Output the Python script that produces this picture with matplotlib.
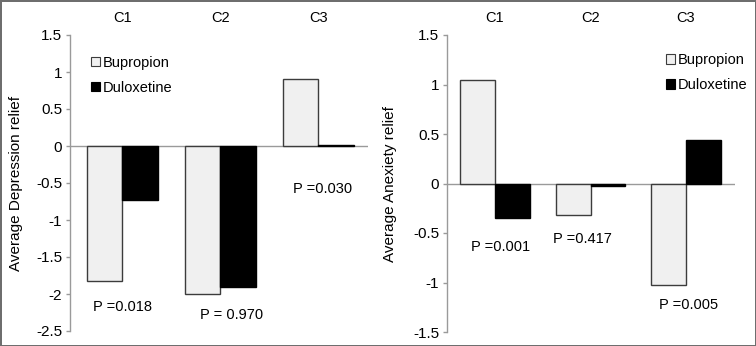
import numpy as np
import matplotlib
matplotlib.use("Agg")
import matplotlib.pyplot as plt
from matplotlib.ticker import FuncFormatter

plt.rcParams['font.family'] = ['Liberation Sans', 'DejaVu Sans']
plt.rcParams['axes.unicode_minus'] = False

categories = ['C1', 'C2', 'C3']
series = ['Bupropion', 'Duloxetine']

# depression relief
dep_bupropion = [-1.82, -2.0, 0.90]
dep_duloxetine = [-0.73, -1.91, 0.02]
dep_pvalues = ['P =0.018', 'P = 0.970', 'P =0.030']
dep_p_y = [-2.17, -2.28, -0.58]

# anxiety relief
anx_bupropion = [1.05, -0.32, -1.03]
anx_duloxetine = [-0.35, -0.03, 0.44]
anx_pvalues = ['P =0.001', 'P =0.417', 'P =0.005']
anx_p_y = [-0.64, -0.56, -1.23]

BUP_FILL = '#f0f0f0'
BUP_EDGE = '#3c3c3c'
DUL_FILL = '#000000'
AXIS_GRAY = '#9a9a9a'
FS = 10.5

fig = plt.figure(figsize=(7.56, 3.46), dpi=100)
fig.patch.set_facecolor('white')
fig.patch.set_edgecolor('#6e6e6e')
fig.patch.set_linewidth(2)

ax1 = fig.add_axes([70/756, 15/346, 298/756, 296/346])
ax2 = fig.add_axes([447/756, 14/346, 288/756, 297/346])


def draw_panel(ax, bup, dul, pvals, p_y, p_x_off, ylim, yticks, xlim, bw, ylabel, ylab_x, leg_anchor):
    x = np.arange(len(categories))
    b1 = ax.bar(x - bw/2, bup, bw, color=BUP_FILL, edgecolor=BUP_EDGE, linewidth=1.0,
                label=series[0], zorder=3)
    b2 = ax.bar(x + bw/2, dul, bw, color=DUL_FILL, edgecolor=DUL_FILL, linewidth=1.0,
                label=series[1], zorder=3)
    ax.axhline(0, color=AXIS_GRAY, linewidth=1.0, zorder=2)

    ax.set_xlim(*xlim)
    ax.set_ylim(*ylim)
    ax.set_yticks(yticks)
    ax.yaxis.set_major_formatter(FuncFormatter(lambda v, p: '%g' % v))
    ax.tick_params(axis='y', direction='out', length=3, width=1, color=AXIS_GRAY,
                   labelsize=11, pad=2.5)
    ax.set_xticks([])
    for s in ['top', 'right', 'bottom']:
        ax.spines[s].set_visible(False)
    ax.spines['left'].set_color(AXIS_GRAY)
    ax.spines['left'].set_linewidth(1.0)

    # category labels sit above the plot
    for i, c in enumerate(categories):
        ax.text(i, 1.057, c, transform=ax.get_xaxis_transform(), ha='center', va='center',
                fontsize=FS)

    for i, (t, yy) in enumerate(zip(pvals, p_y)):
        ax.text(i + p_x_off[i], yy, t, ha='center', va='center', fontsize=FS)

    ax.set_ylabel(ylabel, fontsize=11)
    ax.yaxis.set_label_coords(ylab_x, 0.497)

    leg = ax.legend(handles=[b1, b2], loc='upper left', bbox_to_anchor=leg_anchor,
                    frameon=False, fontsize=FS, handlelength=0.65, handleheight=0.65,
                    handletextpad=0.15, labelspacing=0.75, borderpad=0, borderaxespad=0)
    for h in leg.legend_handles:
        h.set_linewidth(0.8)


draw_panel(ax1, dep_bupropion, dep_duloxetine, dep_pvalues, dep_p_y, [0.0, 0.11, 0.04],
           (-2.5, 1.5), np.arange(-2.5, 1.51, 0.5), (-0.535, 2.505), 0.362,
           'Average Depression relief', -0.158, (0.07, 0.93))
draw_panel(ax2, anx_bupropion, anx_duloxetine, anx_pvalues, anx_p_y, [0.06, -0.08, 0.03],
           (-1.5, 1.5), np.arange(-1.5, 1.51, 0.5), (-0.503, 2.513), 0.366,
           'Average Anexiety relief', -0.174, (0.76, 0.94))

fig.savefig('out.png', dpi=100, facecolor=fig.get_facecolor(), edgecolor=fig.get_edgecolor())
